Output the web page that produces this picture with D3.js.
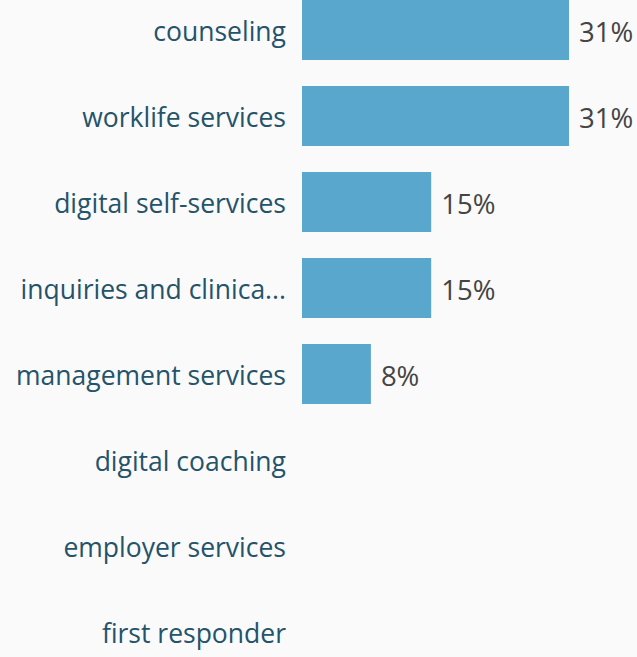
<!DOCTYPE html>
<html>
<head>
<meta charset="utf-8">
<script src="https://cdn.jsdelivr.net/npm/d3@7"></script>
<style>
  html, body { margin: 0; padding: 0; background: #fafafa; }
  svg { display: block; }
</style>
</head>
<body>
<div id="chart"></div>
<script>
// Share of requests by service category (percent)
const categories = [
  "counseling",
  "worklife services",
  "digital self-services",
  "inquiries and clinica...",
  "management services",
  "digital coaching",
  "employer services",
  "first responder"
];
const shares = [31, 31, 15, 15, 8, 0, 0, 0];
const valueLabels = ["31%", "31%", "15%", "15%", "8%", "", "", ""];

const width = 637, height = 657;
const barLeft = 302;
const fontFamily = "'Open Sans', sans-serif";

const svg = d3.select("#chart").append("svg")
  .attr("width", width)
  .attr("height", height)
  .style("background", "#fafafa");

const step = 86, barH = 60;
const y = d3.scaleBand()
  .domain(categories)
  .range([0, step * categories.length - (step - barH)])
  .paddingInner((step - barH) / step)
  .paddingOuter(0);

const x = d3.scaleLinear()
  .domain([0, 31])
  .range([barLeft, barLeft + 267]);

const rows = categories.map((c, i) => ({ c, v: shares[i], label: valueLabels[i] }));

svg.append("g").selectAll("rect")
  .data(rows.filter(d => d.v > 0))
  .join("rect")
  .attr("x", x(0))
  .attr("y", d => y(d.c))
  .attr("width", d => x(d.v) - x(0))
  .attr("height", y.bandwidth())
  .attr("fill", "#5aa7cd");

// Category axis on the left, no line or ticks
const yAxis = svg.append("g")
  .attr("transform", `translate(${barLeft - 16},0)`)
  .call(d3.axisLeft(y).tickSize(0).tickPadding(0));
yAxis.select(".domain").remove();
yAxis.selectAll("text")
  .attr("fill", "#24536a")
  .attr("font-family", fontFamily)
  .attr("font-size", 26.5)
  .attr("dy", "0.42em");

svg.append("g").selectAll("text")
  .data(rows.filter(d => d.label))
  .join("text")
  .attr("x", d => x(d.v) + 10)
  .attr("y", d => y(d.c) + y.bandwidth() / 2)
  .attr("dy", "0.42em")
  .attr("fill", "#444444")
  .attr("font-family", fontFamily)
  .attr("font-size", 27.5)
  .text(d => d.label);
</script>
</body>
</html>
